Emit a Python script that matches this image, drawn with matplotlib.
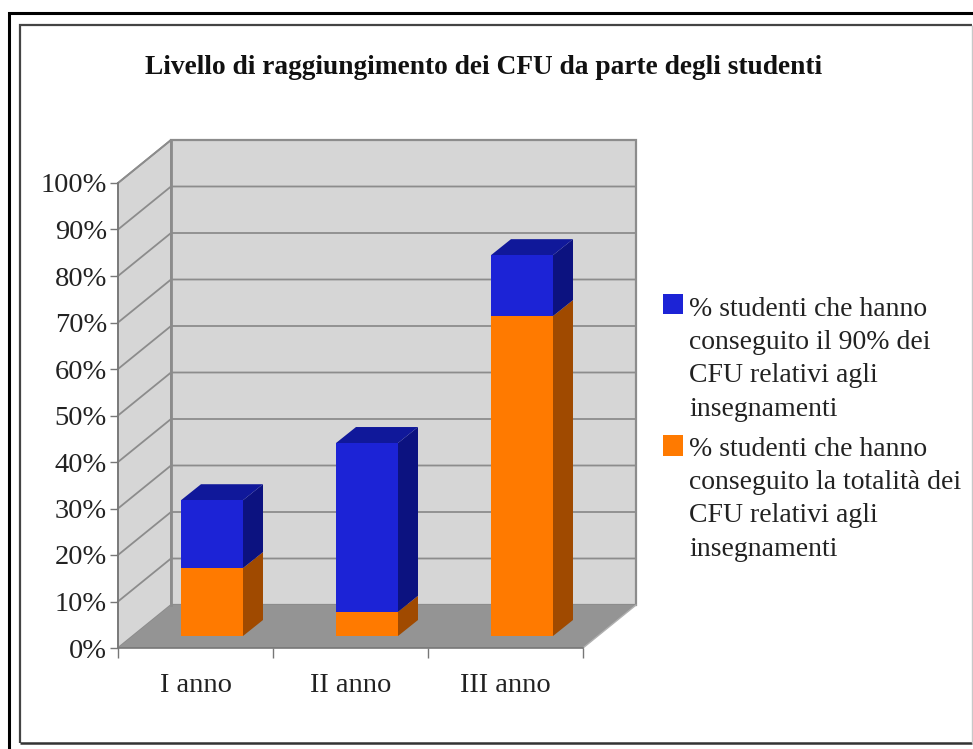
'''Livello di raggiungimento dei CFU - stacked bars with a fake 3D box'''
import matplotlib
matplotlib.use('Agg')
import matplotlib.pyplot as plt
from matplotlib.lines import Line2D
from matplotlib.patches import Polygon, Rectangle

categories = ['I anno', 'II anno', 'III anno']
totalita = [14.6, 5.2, 68.8]
novanta = [14.6, 36.3, 13.1]
yticks = list(range(0, 101, 10))
title = 'Livello di raggiungimento dei CFU da parte degli studenti'
legend_blue = ['% studenti che hanno', 'conseguito il 90% dei', 'CFU relativi agli', 'insegnamenti']
legend_orange = ['% studenti che hanno', 'conseguito la totalità dei', 'CFU relativi agli', 'insegnamenti']

W, H = 973, 749
plt.rcParams['font.family'] = ['Liberation Serif', 'DejaVu Serif']

fig = plt.figure(figsize=(W / 100, H / 100), dpi=100, facecolor='white')
# axes = front plane of the box
ax = fig.add_axes([118 / W, 1 - 648 / H, 465 / W, 465 / H])
ax.set_xlim(-0.5, 2.5)
ax.set_ylim(0, 100)
ax.patch.set_visible(False)
for s in ax.spines.values():
    s.set_visible(False)

DX = 53 / 155   # box depth in category units
DY = 43 / 4.65  # box depth in percent
GRID = '#8c8c8c'
WALL = '#d6d6d6'
FLOOR = '#949494'


def poly(pts, color, z=1, **kw):
    ax.add_patch(Polygon(pts, closed=True, facecolor=color, edgecolor=kw.pop('ec', 'none'),
                         zorder=z, clip_on=False, **kw))


def frame_line(xs, ys, color, lw):
    fig.add_artist(Line2D([x / W for x in xs], [1 - y / H for y in ys], color=color, lw=lw,
                          solid_capstyle='butt', solid_joinstyle='miter'))


x0, x1 = -0.5, 2.5
# walls and floor
poly([(x0 + DX, DY), (x1 + DX, DY), (x1 + DX, 100 + DY), (x0 + DX, 100 + DY)], WALL, ec=GRID, lw=1.6)
poly([(x0, 0), (x0 + DX, DY), (x0 + DX, 100 + DY), (x0, 100)], WALL, ec=GRID, lw=1.3)
poly([(x0, 0), (x1, 0), (x1 + DX, DY), (x0 + DX, DY)], FLOOR)
for v in yticks[1:]:
    ax.plot([x0, x0 + DX, x1 + DX], [v, v + DY, v + DY], color=GRID, lw=1.3, zorder=1.5,
            clip_on=False, solid_joinstyle='miter')
ax.plot([x0 + DX, x0 + DX], [DY, 100 + DY], color=GRID, lw=2, zorder=1.5, clip_on=False)
ax.plot([x1, x1 + DX], [0, DY], color='#b0b0b0', lw=1, zorder=1.5, clip_on=False)

# bars
BW = 62 / 155
BASE = 12 / 4.65   # bar base above the front plane
BDX = 20 / 155
BDY = 16 / 4.65


def box(i, bottom, height, front, side, top=None):
    left = i - 0.5 + 63 / 155
    right = left + BW
    lo = bottom + BASE
    hi = bottom + height + BASE
    poly([(right, lo), (right + BDX, lo + BDY), (right + BDX, hi + BDY), (right, hi)], side, z=3)
    ax.add_patch(Rectangle((left, lo), BW, height, facecolor=front, edgecolor='none', zorder=4))
    if top is not None:
        poly([(left, hi), (right, hi), (right + BDX, hi + BDY), (left + BDX, hi + BDY)], top, z=3)


for i in range(len(categories)):
    box(i, 0, totalita[i], '#ff7a00', '#a04a00')
    box(i, totalita[i], novanta[i], '#1c23d6', '#0c1280', '#10189a')

ax.set_xticks([-0.5, 0.5, 1.5, 2.5], labels=[])
ax.set_xticks([0, 1, 2], labels=categories, minor=True)
ax.set_yticks(yticks, labels=['%d%%' % v for v in yticks])
ax.tick_params(axis='x', which='major', length=7, width=1, color='#777777')
ax.tick_params(axis='x', which='minor', length=0, pad=18, labelsize=20.5, labelcolor='#222222')
ax.tick_params(axis='y', length=6, width=1, color='#777777', pad=2, labelsize=20.5, labelcolor='#222222')
ax.plot([x0, x1], [0, 0], color='#777777', lw=1.2, zorder=2, clip_on=False)
ax.plot([x0, x0], [0, 100], color='#777777', lw=1.2, zorder=2, clip_on=False)

fig.text(484 / W, 1 - 67 / H, title, ha='center', va='center', fontsize=19.7, fontweight='bold', color='#111111')

# legend
LINE = 33.5
fig.patches.append(Rectangle((663 / W, 1 - 314 / H), 20 / W, 20 / H, transform=fig.transFigure,
                             facecolor='#1c23d6', edgecolor='none'))
fig.patches.append(Rectangle((663 / W, 1 - 456 / H), 20 / W, 21 / H, transform=fig.transFigure,
                             facecolor='#ff7a00', edgecolor='none'))
for lines, y in ((legend_blue, 309), (legend_orange, 449)):
    for n, t in enumerate(lines):
        fig.text(689 / W, 1 - (y + n * LINE) / H, t, ha='left', va='center', fontsize=20, color='#222222')

# frames: thick black outer open at right and bottom, thin grey inner
frame_line([9, 9, 973], [749, 13, 13], '#000000', 2.2)
frame_line([20, 20, 972], [743, 24.5, 24.5], '#444444', 1.6)
frame_line([20, 972], [743, 743], '#333333', 1.8)
frame_line([972, 972], [24.5, 743], '#c8c8c8', 1)

fig.savefig('out.png', dpi=100)
